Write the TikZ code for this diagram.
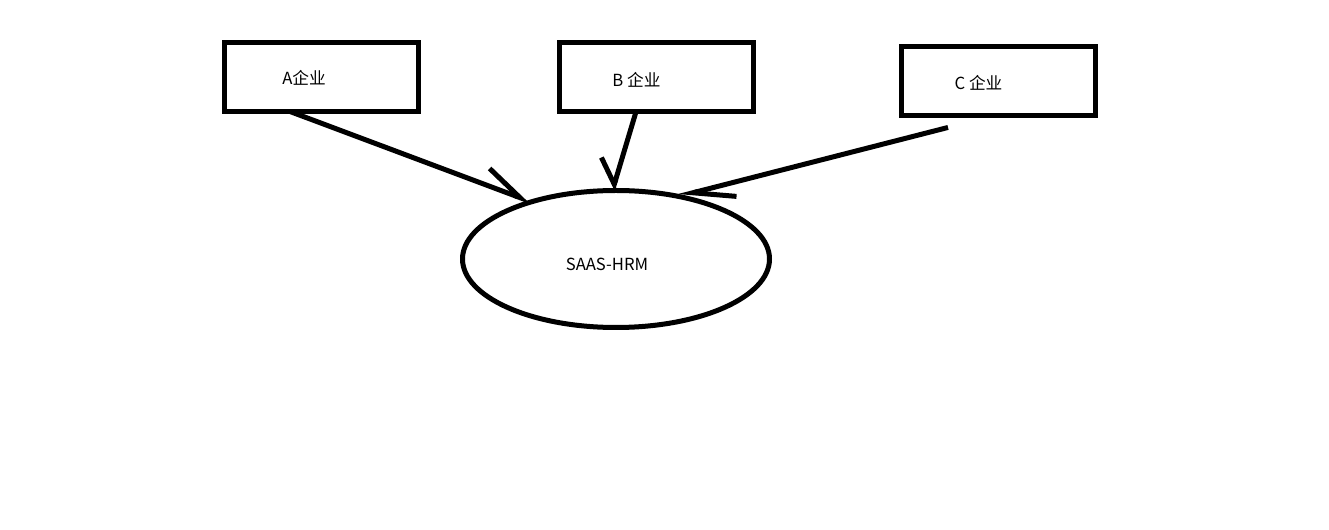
\documentclass[tikz,border=0pt]{standalone}
\usepackage{fontspec}
\setmainfont{Noto Sans CJK SC}
\usetikzlibrary{arrows.meta}
\usetikzlibrary{shapes.geometric}

\begin{document}
\begin{tikzpicture}[x=0.75pt,y=0.75pt,yscale=-1,xscale=1,
  qiye/.style={draw,line width=3.75pt,minimum width=145.5pt,minimum height=51.75pt,inner sep=0pt,outer sep=0pt},
  xitong/.style={draw,ellipse,line width=3.75pt,minimum width=230.25pt,minimum height=102.75pt,inner sep=0pt,outer sep=0pt},
  wenzi/.style={inner sep=0.75pt,font=\fontsize{12.5}{14}\selectfont},
  jiantou/.style={line width=3.75pt}]
\useasboundingbox (0,0) rectangle (1329,530);

%Shape: Rectangle [A]
\node[qiye] (a) at (321,77) {};
%Shape: Rectangle [B]
\node[qiye] (b) at (656.75,77) {};
%Shape: Rectangle [C]
\node[qiye] (c) at (998,81.5) {};
%Shape: Ellipse [hrm]
\node[xitong] (hrm) at (616,259) {};

%Straight Lines [A -> hrm]
\draw[jiantou,-{Straight Barb[harpoon,length=29pt,width=25pt]}] ([xshift=-23.25pt]a.south) -- (hrm.146);
%Straight Lines [B -> hrm]
\draw[jiantou,-{Straight Barb[harpoon,swap,length=16.5pt,width=30pt]}] ([xshift=-15.5pt]b.south) -- (hrm.93);
%Straight Lines [C -> hrm]
\draw[jiantou,-{Straight Barb[harpoon,length=31pt,width=21.5pt]}] ([xshift=-37.5pt,yshift=8.6pt]c.south) -- (hrm.45);

% Text Node
\node[wenzi] (ta) at (304,78) {A企业};
% Text Node
\node[wenzi] (tb) at (636.5,80) {B 企业};
% Text Node
\node[wenzi] (tc) at (978.5,83) {C 企业};
% Text Node
\node[wenzi] (th) at (607,264) {SAAS-HRM};

\end{tikzpicture}
\end{document}
